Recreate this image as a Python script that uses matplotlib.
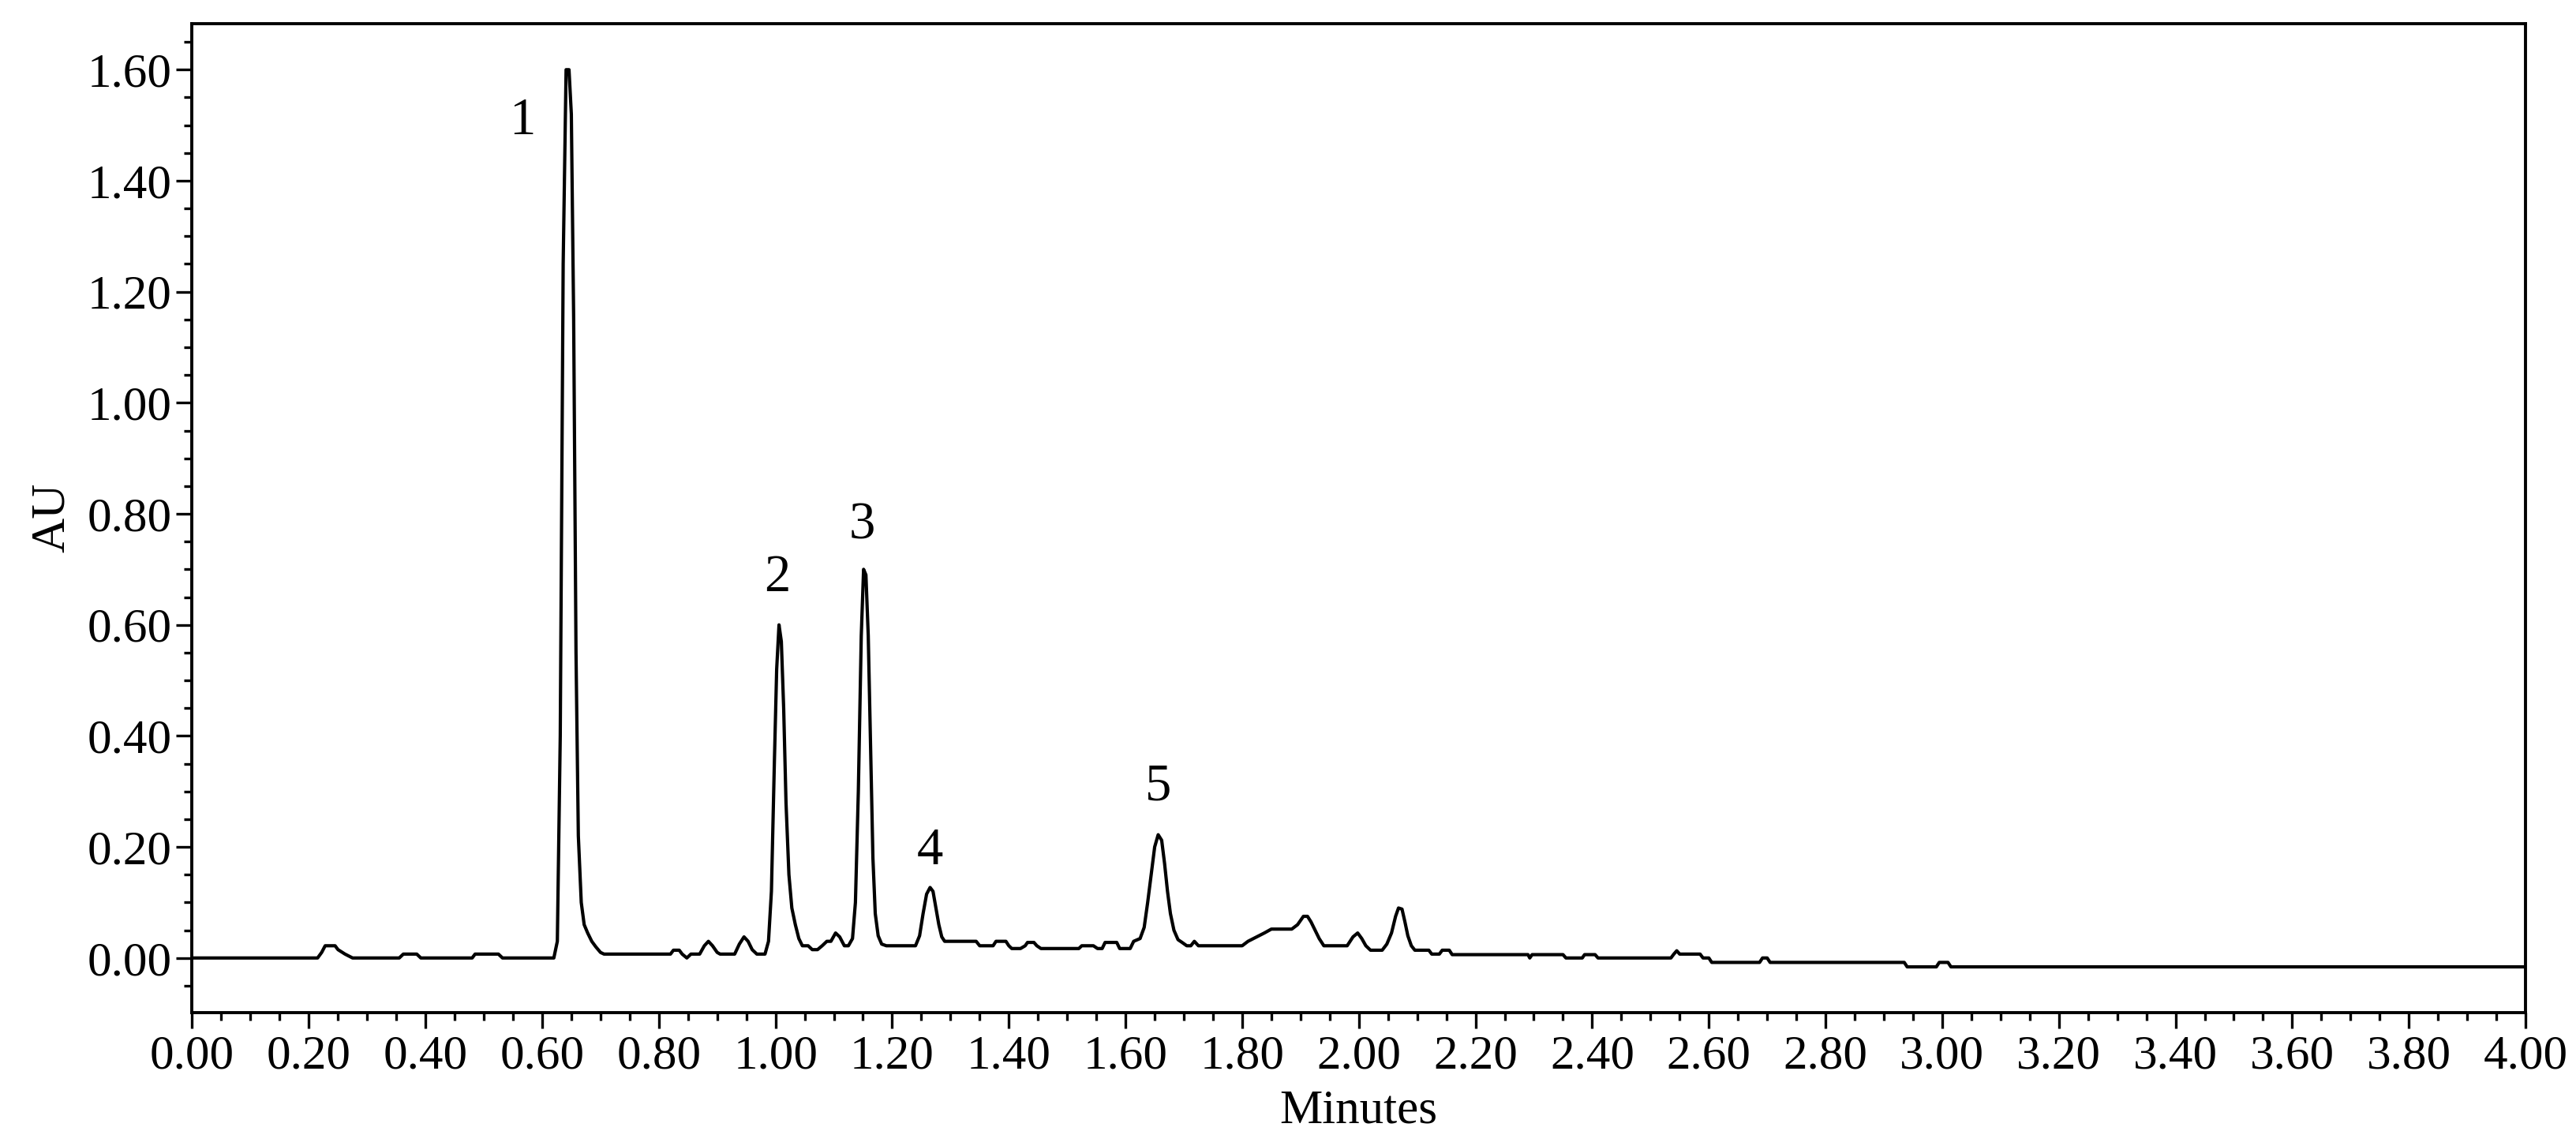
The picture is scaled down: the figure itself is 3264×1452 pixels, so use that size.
import matplotlib.pyplot as plt
from matplotlib.ticker import MultipleLocator, FormatStrFormatter

plt.rcParams["font.family"] = ["Liberation Serif", "DejaVu Serif"]
plt.rcParams["font.size"] = 22

# Chromatogram trace (retention time in minutes, absorbance in AU)
minutes = [
    0.000, 0.215, 0.222, 0.228, 0.245, 0.250, 0.262, 0.275, 0.355, 0.362,
    0.385, 0.392, 0.480, 0.485, 0.525, 0.532, 0.620, 0.626, 0.631, 0.636,
    0.641, 0.646, 0.650, 0.654, 0.658, 0.662, 0.667, 0.672, 0.678, 0.685,
    0.692, 0.700, 0.706, 0.820, 0.825, 0.835, 0.840, 0.848, 0.855, 0.870,
    0.878, 0.885, 0.892, 0.900, 0.905, 0.930, 0.938, 0.946, 0.953, 0.960,
    0.968, 0.982, 0.988, 0.993, 0.998, 1.002, 1.006, 1.010, 1.014, 1.018,
    1.023, 1.028, 1.034, 1.040, 1.046, 1.056, 1.063, 1.072, 1.080, 1.088,
    1.095, 1.103, 1.110, 1.118, 1.125, 1.132, 1.137, 1.142, 1.147, 1.151,
    1.155, 1.159, 1.163, 1.167, 1.171, 1.176, 1.182, 1.190, 1.240, 1.247,
    1.253, 1.259, 1.265, 1.270, 1.275, 1.280, 1.285, 1.290, 1.344, 1.350,
    1.373, 1.378, 1.395, 1.400, 1.405, 1.420, 1.428, 1.432, 1.443, 1.448,
    1.455, 1.520, 1.525, 1.545, 1.552, 1.560, 1.565, 1.585, 1.590, 1.608,
    1.614, 1.625, 1.632, 1.638, 1.644, 1.650, 1.656, 1.662, 1.667, 1.672,
    1.677, 1.683, 1.690, 1.697, 1.705, 1.712, 1.718, 1.725, 1.800, 1.810,
    1.825, 1.838, 1.850, 1.885, 1.895, 1.905, 1.912, 1.918, 1.925, 1.932,
    1.940, 1.980, 1.990, 1.998, 2.005, 2.012, 2.020, 2.040, 2.048, 2.056,
    2.063, 2.068, 2.074, 2.079, 2.084, 2.090, 2.096, 2.120, 2.125, 2.138,
    2.143, 2.155, 2.160, 2.290, 2.293, 2.297, 2.350, 2.355, 2.383, 2.387,
    2.405, 2.410, 2.535, 2.540, 2.545, 2.550, 2.585, 2.590, 2.600, 2.605,
    2.687, 2.692, 2.700, 2.705, 2.935, 2.940, 2.990, 2.995, 3.010, 3.015,
    4.000,
]
absorbance = [
    0.000, 0.000, 0.010, 0.022, 0.022, 0.015, 0.007, 0.000, 0.000, 0.007,
    0.007, 0.000, 0.000, 0.007, 0.007, 0.000, 0.000, 0.030, 0.400, 1.250,
    1.600, 1.600, 1.520, 1.150, 0.550, 0.220, 0.100, 0.060, 0.045, 0.030,
    0.020, 0.010, 0.007, 0.007, 0.014, 0.014, 0.007, 0.000, 0.007, 0.007,
    0.022, 0.030, 0.022, 0.010, 0.007, 0.007, 0.025, 0.038, 0.030, 0.015,
    0.007, 0.007, 0.030, 0.120, 0.350, 0.520, 0.600, 0.570, 0.450, 0.280,
    0.150, 0.090, 0.060, 0.035, 0.022, 0.022, 0.015, 0.015, 0.022, 0.030,
    0.030, 0.045, 0.038, 0.022, 0.022, 0.035, 0.100, 0.300, 0.580, 0.700,
    0.690, 0.580, 0.380, 0.180, 0.080, 0.040, 0.025, 0.022, 0.022, 0.040,
    0.080, 0.115, 0.127, 0.120, 0.090, 0.060, 0.038, 0.030, 0.030, 0.022,
    0.022, 0.030, 0.030, 0.022, 0.017, 0.017, 0.022, 0.028, 0.028, 0.022,
    0.017, 0.017, 0.022, 0.022, 0.017, 0.017, 0.028, 0.028, 0.017, 0.017,
    0.030, 0.035, 0.055, 0.100, 0.150, 0.200, 0.222, 0.212, 0.170, 0.120,
    0.080, 0.050, 0.033, 0.028, 0.022, 0.022, 0.030, 0.022, 0.022, 0.030,
    0.038, 0.045, 0.052, 0.052, 0.060, 0.075, 0.075, 0.065, 0.050, 0.035,
    0.022, 0.022, 0.038, 0.045, 0.035, 0.022, 0.014, 0.014, 0.025, 0.045,
    0.075, 0.090, 0.088, 0.065, 0.040, 0.022, 0.014, 0.014, 0.007, 0.007,
    0.014, 0.014, 0.006, 0.006, 0.000, 0.006, 0.006, 0.000, 0.000, 0.006,
    0.006, 0.000, 0.000, 0.007, 0.013, 0.007, 0.007, 0.000, 0.000, -0.008,
    -0.008, 0.000, 0.000, -0.008, -0.008, -0.016, -0.016, -0.008, -0.008, -0.016,
    -0.016,
]

# Peak labels
peak_names = ["1", "2", "3", "4", "5"]
peak_x = [0.566, 1.003, 1.149, 1.265, 1.656]
peak_y = [1.508, 0.684, 0.779, 0.193, 0.308]

fig = plt.figure(figsize=(16.32, 7.26), dpi=200)
ax = fig.add_axes([0.0746, 0.1166, 0.9058, 0.8628])

ax.plot(minutes, absorbance, color="black", linewidth=1.5)

for name, x, y in zip(peak_names, peak_x, peak_y):
    ax.text(x, y, name, ha="center", va="center", fontsize=24)

ax.set_xlim(0, 4.0)
ax.set_ylim(-0.098, 1.683)

ax.xaxis.set_major_locator(MultipleLocator(0.2))
ax.xaxis.set_minor_locator(MultipleLocator(0.05))
ax.yaxis.set_major_locator(MultipleLocator(0.2))
ax.yaxis.set_minor_locator(MultipleLocator(0.05))
ax.xaxis.set_major_formatter(FormatStrFormatter("%.2f"))
ax.yaxis.set_major_formatter(FormatStrFormatter("%.2f"))

ax.tick_params(which="major", direction="out", length=7.2, width=1.2, pad=3)
ax.tick_params(which="minor", direction="out", length=3.6, width=1.2)
ax.tick_params(axis="y", which="major", pad=2)

for spine in ax.spines.values():
    spine.set_linewidth(1.4)

ax.set_xlabel("Minutes", labelpad=5)
ax.set_ylabel("AU", labelpad=6)

plt.savefig("out.png", dpi=200)
